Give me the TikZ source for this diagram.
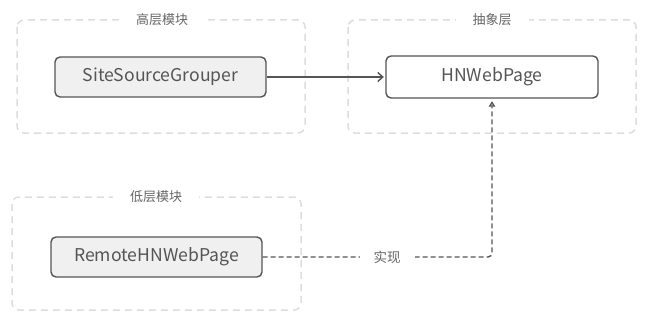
\documentclass[tikz,border=0pt]{standalone}
\usepackage{fontspec}
\setmainfont{Noto Sans CJK SC}
\usetikzlibrary{arrows.meta}
\definecolor{edge}{HTML}{555555}
\definecolor{grp}{HTML}{DDDDDD}
\definecolor{boxfill}{HTML}{F0F0F0}
\definecolor{txt}{HTML}{555555}
\definecolor{lbl}{HTML}{666666}
\begin{document}
\begin{tikzpicture}[x=1pt,y=-1pt,
  group/.style={draw=grp,line width=1.5pt,dash pattern=on 7pt off 5pt,rounded corners=7pt},
  grouplabel/.style={fill=white,inner xsep=17pt,inner ysep=2pt,text=lbl,font=\fontsize{13}{15}\selectfont},
  classbox/.style={draw=edge,fill=boxfill,line width=1.4pt,rounded corners=5pt,text=txt,font=\fontsize{17.6}{20}\selectfont,minimum height=40pt,minimum width=211pt,inner sep=0pt},
  conn/.style={draw=edge,line width=1.4pt},
  dconn/.style={conn,dash pattern=on 5pt off 3pt}
]
\useasboundingbox (0,0) rectangle (660,326);
% groups
\draw[group] (17,20) rectangle (305,133);
\draw[group] (348,20) rectangle (636,133);
\draw[group] (12,197) rectangle (301,310);
\node[grouplabel] (g1) at (162,20) {高层模块};
\node[grouplabel] (g2) at (492,20) {抽象层};
\node[grouplabel] (g3) at (156,197) {低层模块};
% classes
\node[classbox] (ssg) at (160.5,77) {SiteSourceGrouper};
\node[classbox,fill=white,minimum width=212pt,minimum height=42pt] (hn) at (492,77) {HNWebPage};
\node[classbox] (rhn) at (156.5,257) {RemoteHNWebPage};
% connectors
\draw[conn,shorten >=1.5pt,-{Straight Barb[length=5pt,width=9pt,line width=1.4pt]}] (ssg.east) -- (hn.west);
\coordinate (corner) at (hn.south |- rhn.east);
\draw[dconn,rounded corners=4pt,shorten >=2.5pt,-{Triangle[open,length=5.5pt,width=6.5pt,fill=white,line width=1.4pt]}]
  (rhn.east) -- (corner) -- (hn.south);
\node[fill=white,inner xsep=14pt,inner ysep=2pt,text=lbl,font=\fontsize{13.5}{15}\selectfont] (impl) at (387,257) {实现};
\end{tikzpicture}
\end{document}
